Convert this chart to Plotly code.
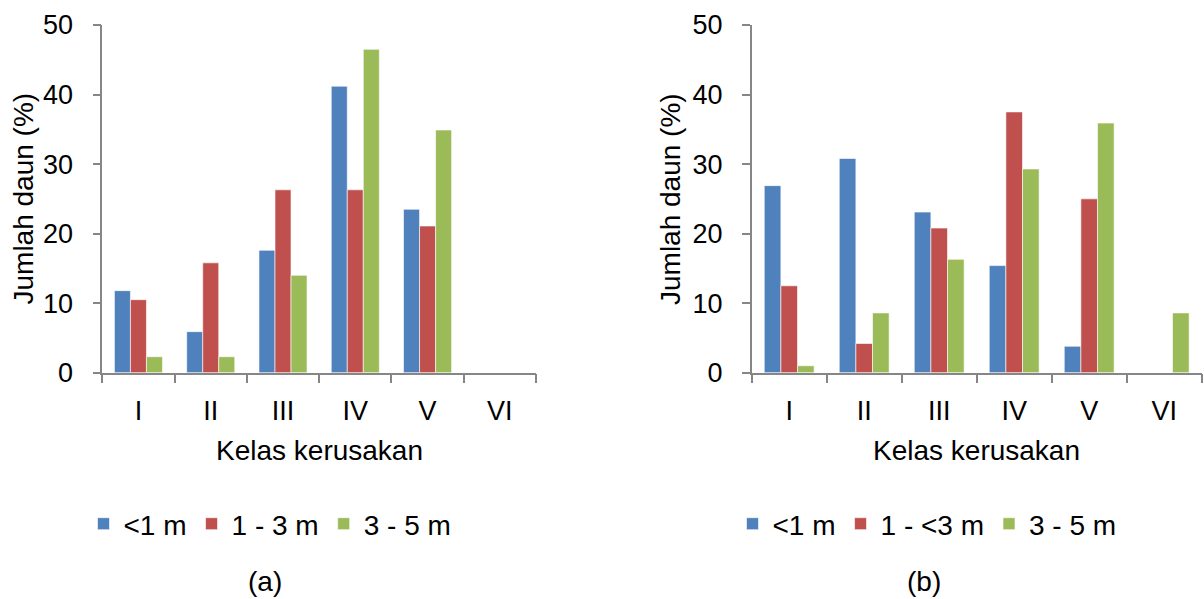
import plotly.graph_objects as go

categories = ["I", "II", "III", "IV", "V", "VI"]

# Panel (a)
a_lt1 = [11.8, 5.9, 17.6, 41.2, 23.5, 0]
a_1_3 = [10.5, 15.8, 26.3, 26.3, 21.1, 0]
a_3_5 = [2.3, 2.3, 14.0, 46.5, 34.9, 0]
names_a = ["&lt;1 m", "1 - 3 m", "3 - 5 m"]

# Panel (b)
b_lt1 = [26.9, 30.8, 23.1, 15.4, 3.8, 0]
b_1_3 = [12.5, 4.2, 20.8, 37.5, 25.0, 0]
b_3_5 = [1.0, 8.6, 16.3, 29.3, 35.9, 8.6]
names_b = ["&lt;1 m", "1 - &lt;3 m", "3 - 5 m"]

colors = ["#4F81BD", "#C0504D", "#9BBB59"]
y_title = "Jumlah daun (%)"
x_title = "Kelas kerusakan"

W, H = 1204, 599
FONT = "Liberation Sans, Arial, sans-serif"
FS = 27
FS_T = 28
AXC = "#868686"

fig = go.Figure()
for vals, name, col in zip([a_lt1, a_1_3, a_3_5], names_a, colors):
    fig.add_trace(go.Bar(x=categories, y=vals, name=name, marker_color=col,
                         marker_line=dict(color="rgba(255,255,255,0.6)", width=1),
                         xaxis="x", yaxis="y", legend="legend"))
for vals, name, col in zip([b_lt1, b_1_3, b_3_5], names_b, colors):
    fig.add_trace(go.Bar(x=categories, y=vals, name=name, marker_color=col,
                         marker_line=dict(color="rgba(255,255,255,0.6)", width=1),
                         xaxis="x2", yaxis="y2", legend="legend2"))

def px_x(p):
    return p / W

def px_y(p):
    return (H - p) / H

ydom = [px_y(372.7), px_y(25)]
xdom1 = [px_x(102.3), px_x(536)]
xdom2 = [px_x(751.7), px_x(1201.7)]

xcommon = dict(type="category", range=[-0.5, 5.5], showline=True, linecolor=AXC,
               linewidth=1.5, ticks="outside", tickson="boundaries", ticklen=9,
               tickcolor=AXC, tickwidth=1.5, showgrid=False, zeroline=False,
               tickfont=dict(size=FS, color="black", family=FONT),
               ticklabelstandoff=13, fixedrange=True, automargin=False)
ycommon = dict(range=[0, 50], dtick=10, showline=True, linecolor=AXC, linewidth=1.5,
               ticks="outside", ticklen=8, tickcolor=AXC, tickwidth=1.5,
               showgrid=False, zeroline=False,
               tickfont=dict(size=FS, color="black", family=FONT),
               ticklabelstandoff=14, domain=ydom, fixedrange=True, automargin=False)

fig.update_layout(
    width=W, height=H,
    margin=dict(l=0, r=0, t=0, b=0, autoexpand=False),
    paper_bgcolor="white", plot_bgcolor="white",
    font=dict(family=FONT, size=FS, color="black"),
    barmode="group", bargap=0.335, bargroupgap=0,
    xaxis=dict(xcommon, domain=xdom1, anchor="y"),
    yaxis=dict(ycommon, anchor="x"),
    xaxis2=dict(xcommon, domain=xdom2, anchor="y2"),
    yaxis2=dict(ycommon, anchor="x2"),
    legend=dict(orientation="h", x=px_x(270), xanchor="center", y=px_y(524),
                yanchor="middle", font=dict(size=FS_T, family=FONT, color="black"),
                bgcolor="rgba(0,0,0,0)"),
    legend2=dict(orientation="h", x=px_x(927), xanchor="center", y=px_y(524),
                 yanchor="middle", font=dict(size=FS_T, family=FONT, color="black"),
                 bgcolor="rgba(0,0,0,0)"),
    showlegend=True,
)

ann = [
    dict(text=y_title, x=px_x(22.5), y=px_y(199), textangle=-90),
    dict(text=y_title, x=px_x(670), y=px_y(199), textangle=-90),
    dict(text=x_title, x=px_x(319.2), y=px_y(450)),
    dict(text=x_title, x=px_x(976.7), y=px_y(450)),
    dict(text="(a)", x=px_x(264.5), y=px_y(581)),
    dict(text="(b)", x=px_x(924), y=px_y(581)),
]
for a in ann:
    fig.add_annotation(xref="paper", yref="paper", showarrow=False,
                       xanchor="center", yanchor="middle",
                       font=dict(size=FS_T, family=FONT, color="black"), **a)

fig.write_html("out.html", config={"displayModeBar": False},
               post_script="document.body.style.margin='0px';")
